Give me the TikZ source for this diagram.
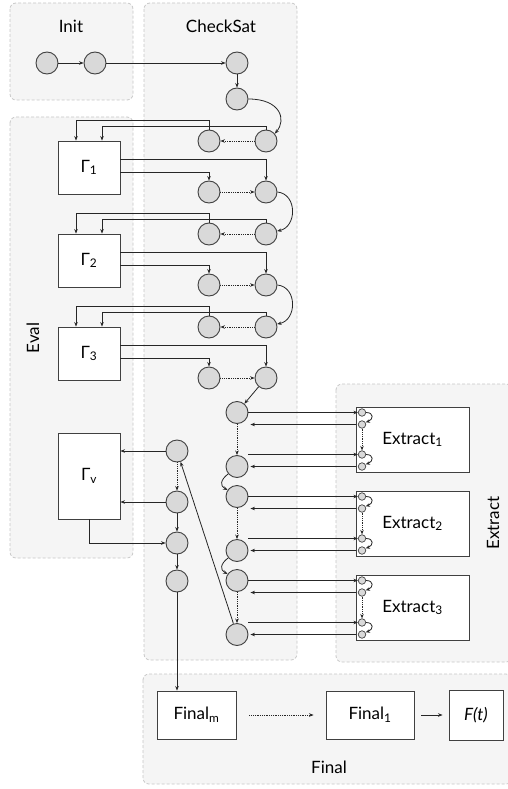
\documentclass[tikz,border=0pt]{standalone}
\usepackage{fontspec}
\setmainfont{Lato}
\usetikzlibrary{arrows.meta, positioning, backgrounds}

\begin{document}
\begin{tikzpicture}[
    x=1pt, y=-1pt,
    font=\fontsize{17}{20}\selectfont,
    panel/.style={draw=black!22, dash pattern=on 3pt off 2pt, fill=black!4, rounded corners=6pt, line width=0.8pt},
    plab/.style={inner sep=0pt},
    dot/.style={circle, draw=black!75, fill=black!15, line width=0.9pt, minimum size=22pt, inner sep=0pt},
    sdot/.style={dot, minimum size=7.5pt, line width=0.7pt},
    box/.style={draw=black!75, fill=white, line width=0.9pt, align=center, inner sep=0pt},
    gbox/.style={box, minimum width=62pt, minimum height=53pt},
    ebox/.style={box, minimum width=113pt, minimum height=65pt},
    fbox/.style={box, minimum height=48pt},
    arr/.style={-{Stealth[length=4.5pt, width=3.5pt]}, line width=0.8pt, draw=black!85},
    darr/.style={arr, densely dotted},
]
\useasboundingbox (0,0) rectangle (507,789);

% ============ panels ============
\draw[panel] (10,3) rectangle (133,100);
\draw[panel] (144,3) rectangle (297,660);
\draw[panel] (10,117) rectangle (133,558);
\draw[panel] (336,384) rectangle (512,662);
\draw[panel] (143,674) rectangle (512,784);
\node[plab] (init_lab) at (71,26) {Init};
\node[plab] (chk_lab) at (221,26) {CheckSat};
\node[plab, rotate=90] (eval_lab) at (33,338) {Eval};
\node[plab, rotate=90] (ext_lab) at (493,523) {Extract};
\node[plab] (fin_lab) at (329,767) {Final};

% ============ init and start of checksat ============
\node[dot] (i1) at (47,63) {};
\node[dot] (i2) at (95,63) {};
\node[dot] (c1) at (237,63) {};
\node[dot] (c2) at (237,99) {};
\draw[arr] (i1) -- (i2);
\draw[arr] (i2) -- (c1);
\draw[arr] (c1) -- (c2);

% ============ eval rows ============
\foreach \k in {1,2,3} {
  \pgfmathsetmacro{\yt}{141+93*(\k-1)}
  \node[gbox] (g\k) at (89, \yt+26.5) {Γ\textsubscript{\k}};
  \node[dot] (al\k) at (209, \yt) {};
  \node[dot] (ar\k) at (266, \yt) {};
  \node[dot] (bl\k) at (209, \yt+51) {};
  \node[dot] (br\k) at (266, \yt+51) {};
  \draw[darr] (ar\k) -- (al\k);
  \draw[arr] (ar\k.north) -- ++(0,-3) -| ([xshift=13pt]g\k.north);
  \draw[arr] (al\k.north) -- ++(0,-9) -| ([xshift=-13pt]g\k.north);
  \draw[arr] ([yshift=8.5pt]g\k.east) -| (br\k.north);
  \draw[arr] ([yshift=-4.5pt]g\k.east) -| (bl\k.north);
  \draw[darr] (bl\k) -- (br\k);
}
\draw[arr] (c2.east) .. controls +(32,0) and +(12,-14) .. (ar1.40);
\draw[arr] (br1.east) .. controls +(20,2) and +(20,-4) .. (ar2.15);
\draw[arr] (br2.east) .. controls +(20,2) and +(20,-4) .. (ar3.15);

% ============ extract ============
\foreach \k in {1,2,3} {
  \pgfmathsetmacro{\ye}{439.5+84*(\k-1)}
  \node[ebox] (ex\k) at (412.5, \ye) {Extract\textsubscript{\k}};
  \node[sdot] (s\k1) at (362, \ye-27) {};
  \node[sdot] (s\k2) at (362, \ye-15) {};
  \node[sdot] (s\k3) at (362, \ye+15) {};
  \node[sdot] (s\k4) at (362, \ye+27) {};
  \node[dot] (ea\k) at (237, \ye-27) {};
  \node[dot] (eb\k) at (237, \ye+27) {};
  \draw[arr] (s\k1.east) .. controls +(8,0) and +(8,-3) .. (s\k2.30);
  \draw[darr] (s\k2) -- (s\k3);
  \draw[arr] (s\k3.east) .. controls +(8,0) and +(8,-3) .. (s\k4.30);
  \draw[darr] (ea\k) -- (eb\k);
  \draw[arr] (ea\k.east) -- (s\k1.west);
  \draw[arr, shorten >=2pt] (s\k2 -| ex\k.west) -- (s\k2 -| ea\k.east);
  \draw[arr] (s\k3 -| ea\k.east) -- (s\k3.west);
  \draw[arr, shorten >=2pt] (s\k4 -| ex\k.west) -- (s\k4 -| eb\k.east);
}
\draw[arr] (br3) -- (ea1);
\draw[arr] (eb1.220) .. controls +(-8,6) and +(-8,-4) .. (ea2.145);
\draw[arr] (eb2.220) .. controls +(-8,6) and +(-8,-4) .. (ea3.145);

% ============ gamma_v ============
\node[box, minimum width=62pt, minimum height=86pt] (gv) at (89,476) {Γ\textsubscript{v}};
\node[dot] (v1) at (177,451) {};
\node[dot] (v2) at (177,502) {};
\node[dot] (v3) at (177,543) {};
\node[dot] (v4) at (177,581) {};
\draw[arr] (v1) -- (v1 -| gv.east);
\draw[arr] (v2) -- (v2 -| gv.east);
\draw[darr] (v1) -- (v2);
\draw[arr] (v2) -- (v3);
\draw[arr] (v3) -- (v4);
\draw[arr] (gv.south) |- (v3);
\draw[arr] (eb3) -- (v1);

% ============ final ============
\node[fbox, minimum width=79pt] (fm) at (196.5,715) {Final\textsubscript{m}};
\node[fbox, minimum width=88pt] (f1) at (370,715) {Final\textsubscript{1}};
\node[fbox, minimum width=54pt, minimum height=50pt] (ft) at (476,715) {\textit{F(t)}};
\draw[arr] (v4) -- (v4 |- fm.north);
\draw[darr, shorten <=13pt, shorten >=12pt] (fm) -- (f1);
\draw[arr, shorten <=7pt, shorten >=6pt] (f1) -- (ft);

\end{tikzpicture}
\end{document}
